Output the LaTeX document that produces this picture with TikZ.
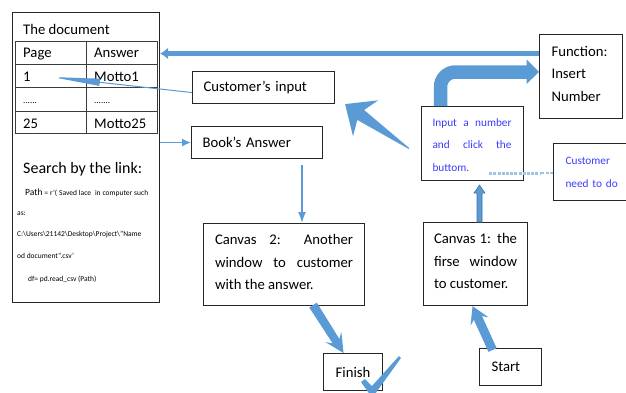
\documentclass[tikz,border=0pt]{standalone}
\usepackage{fontspec}
\setmainfont{Carlito}
\usetikzlibrary{arrows.meta,calc}

\definecolor{arrowblue}{HTML}{5B9BD5}
\definecolor{arrowedge}{HTML}{41719C}
\definecolor{inkblue}{HTML}{3B3BFF}
\definecolor{dashblue}{HTML}{9DC3E6}
\definecolor{rulegray}{HTML}{3C3C3C}

% Filled block arrow from #2 (tail) to #3 (tip):
% #4 head length, #5 head half width, #6 shaft half width at the head,
% #7 shaft half width at the tail, #8 distance from the tip to the shaft joint
\newcommand\blockarrow[8][]{%
  \filldraw[arrowblue, draw=none, #1]
    ($(#2)!#7!90:(#3)$)
    -- ($(#3)!#8!(#2)!#6!-90:(#2)$)
    -- ($(#3)!#4!(#2)!#5!-90:(#2)$)
    -- (#3)
    -- ($(#3)!#4!(#2)!#5!90:(#2)$)
    -- ($(#3)!#8!(#2)!#6!90:(#2)$)
    -- ($(#2)!#7!-90:(#3)$)
    -- cycle;}

\tikzset{
  box/.style={draw=black!85, line width=1.1pt, anchor=north west, inner sep=0pt,
    font=\fontsize{14.7}{22.5}\selectfont},
  boxtext/.style={inner sep=0pt, font=\fontsize{14.7}{22.5}\selectfont},
  bluetext/.style={inner sep=0pt, text=inkblue, font=\fontsize{11.3}{22.5}\selectfont},
  tabtext/.style={anchor=base west, inner sep=0pt, font=\fontsize{14.7}{18}\selectfont},
  dottext/.style={anchor=base west, inner sep=0pt, font=\fontsize{9}{11}\selectfont},
  smalltext/.style={anchor=base west, inner sep=0pt, font=\fontsize{7.5}{9}\selectfont},
  thinarrow/.style={draw=arrowblue, line width=1.5pt},
}

\begin{document}
\begin{tikzpicture}[x=1pt,y=-1pt]
\useasboundingbox (0,0) rectangle (626,392);
\clip (0,0) rectangle (626,392);

% ---- the document panel ----
\node[box, minimum width=147pt, minimum height=290pt] (doc) at (12,12) {};
\node[tabtext] (title) at (23,34.5) {The document};
\draw[rulegray, line width=0.8pt]
  (15,41) rectangle (157,133)
  (15,64) -- (157,64) (15,87) -- (157,87) (15,111) -- (157,111)
  (86,41) -- (86,133);
\node[tabtext] (hpage) at (23,57.5) {Page};
\node[tabtext] (hans)  at (94,57.5) {Answer};
\node[tabtext] (pone)  at (23,81) {1};
\node[tabtext] (aone)  at (94,81) {Motto1};
\node[dottext] (pdots) at (23,103) {......};
\node[dottext] (adots) at (94,103) {.......};
\node[tabtext] (plast) at (23,128) {25};
\node[tabtext] (alast) at (94,128) {Motto25};

\node[anchor=base west, inner sep=0pt, font=\fontsize{16}{18}\selectfont] (search) at (23,173) {Search by the link:};
\node[smalltext] (lpath) at (25,195) {\makebox[123pt][s]{{\fontsize{9.5}{10}\selectfont Path} = r'( Saved lace \ in computer such}};
\node[smalltext] (las)   at (17,215) {as:};
\node[smalltext] (ldir)  at (17,236) {C:\textbackslash Users\textbackslash 21142\textbackslash Desktop\textbackslash Project\textbackslash "Name};
\node[smalltext] (lname) at (17,258) {od document”.csv’};
\node[smalltext] (lread) at (28,281) {df= pd.read\_csv (Path)};

% ---- boxes ----
\node[box, minimum width=142pt, minimum height=32pt, text width=120pt, align=left] (custin) at (192,71) {Customer’s input};
\node[box, minimum width=131pt, minimum height=32pt, text width=109pt, align=left] (book) at (191,126) {Book’s Answer};

\node[box, minimum width=83pt, minimum height=84pt] (func) at (539,34) {};
\node[boxtext, text width=59pt, align=left] (functxt) at ($(func.center)+(0,-3)$) {Function:\\Insert\\Number};

\node[box, minimum width=102pt, minimum height=74pt] (inp) at (421,106) {};
\node[bluetext, text width=79pt, align=justify] (inptxt) at ($(inp.center)+(-0.5,1.5)$) {Input a number\linebreak and click the\linebreak buttom.};

\node[box, minimum width=88pt, minimum height=57pt] (cust) at (553,143) {};
\node[bluetext, text width=64pt, align=left] (custtxt) at ($(cust.center)+(0,0.5)$) {Customer\\need to do};

\node[box, minimum width=161pt, minimum height=82pt] (ctwo) at (203,223) {};
\node[boxtext, text width=138pt, align=justify] (ctwotxt) at ($(ctwo.center)+(0,-2.5)$) {Canvas 2: Another\linebreak window to customer\linebreak with the answer.};

\node[box, minimum width=104pt, minimum height=83pt] (cone) at (423,222) {};
\node[boxtext, text width=83pt, align=justify] (conetxt) at ($(cone.center)+(0,-3)$) {Canvas 1: the\linebreak firse\ \ window\linebreak to customer.};

\node[box, minimum width=59pt, minimum height=37pt] (finish) at (323,353) {Finish};
\node[box, minimum width=62pt, minimum height=37pt, text width=38pt, align=left] (start) at (479,348) {Start};

% ---- connectors ----
% function result written back into the document
\coordinate (fy) at (0,53.5);
\draw[arrowblue, line width=5pt, -{Latex[length=8pt,width=12pt]}] (func.west |- fy) -- (doc.east |- fy);

% input box feeds the function (bent block arrow)
\coordinate (bx) at (440.5,0);
\coordinate (by) at (0,72);
\draw[arrowblue, line width=13.5pt, rounded corners=15pt] (inp.north -| bx) |- ($(func.west |- by)+(-12,0)$);
\fill[arrowblue] ($(func.west |- by)+(-12.5,-12.5)$) -- (func.west |- by) -- ($(func.west |- by)+(-12.5,12)$) -- cycle;

% customer's input points at the page column
\coordinate (onetip) at (52,77);
\draw[arrowblue, line width=1pt, -{Triangle[length=48pt,width=7pt]}] ($(custin.west)+(0,5)$) -- (onetip);

% document to book's answer
\draw[thinarrow, -{Latex[length=9pt,width=8pt]}] (doc.east |- book.west) -- (book.west);

% book's answer to canvas 2
\coordinate (vx) at (302,0);
\draw[thinarrow, -{Latex[length=11pt,width=8pt]}] ($(book.south -| vx)+(0,6)$) -- (ctwo.north -| vx);

% input box to customer's input
\coordinate (tin) at ($(inp.west)+(-12,5)$);
\coordinate (hin) at ($(custin.south east)+(10,0)$);
\blockarrow{tin}{hin}{25pt}{22pt}{6pt}{0.5pt}{19pt}

% start to canvas 1
\coordinate (tst) at ($(start.north)+(-18,2)$);
\coordinate (hst) at ($(cone.south)+(-3,0)$);
\blockarrow{tst}{hst}{17pt}{10pt}{4.5pt}{4.5pt}{13pt}

% canvas 2 to finish
\coordinate (tc2) at ($(ctwo.south)+(29,-1)$);
\coordinate (hc2) at ($(finish.north)+(-9.5,0)$);
\blockarrow{tc2}{hc2}{19pt}{9.5pt}{4pt}{4.5pt}{14pt}

% canvas 1 to input box
\coordinate (ux) at (479.5,0);
\coordinate (tc1) at (cone.north -| ux);
\coordinate (hc1) at ($(inp.south -| ux)+(0,4)$);
\blockarrow[draw=arrowedge, line width=0.6pt]{tc1}{hc1}{8pt}{5.5pt}{2.5pt}{2.5pt}{8pt}

% customer action link (dashed)
\coordinate (dstart) at ($(inp.south east)+(-35,-8)$);
\coordinate (dmid) at ($(inp.south east)+(17,-8)$);
\draw[dashblue, line width=3pt, dash pattern=on 3pt off 1.2pt] (dstart) -- (dmid);
\draw[dashblue, line width=1.5pt, dash pattern=on 3pt off 1.5pt] (dmid) -- (cust.west |- dstart);

% check mark beside finish
\fill[arrowblue] (361,382) -- (365,379) -- (372,386) -- (399,356) -- (401,358) -- (375,394) -- (371,396) -- cycle;
\end{tikzpicture}
\end{document}
